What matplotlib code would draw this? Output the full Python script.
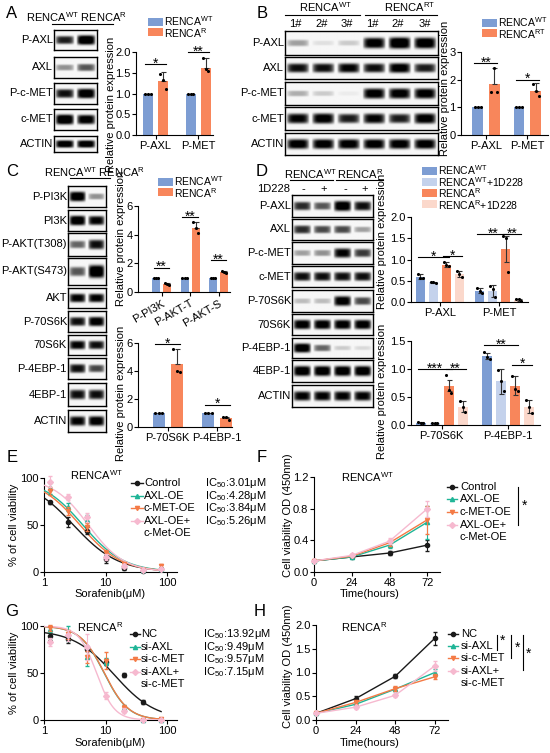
import numpy as np
import matplotlib
matplotlib.use('Agg')
import matplotlib.pyplot as plt
from matplotlib.lines import Line2D
from matplotlib.transforms import offset_copy

plt.rcParams['font.family'] = ['Liberation Sans', 'DejaVu Sans']
plt.rcParams['mathtext.default'] = 'regular'
plt.rcParams['font.size'] = 8
plt.rcParams['axes.linewidth'] = 0.8
plt.rcParams['xtick.major.width'] = 0.8
plt.rcParams['ytick.major.width'] = 0.8
plt.rcParams['xtick.major.size'] = 3
plt.rcParams['ytick.major.size'] = 3
plt.rcParams['xtick.major.pad'] = 1.5
plt.rcParams['ytick.major.pad'] = 1.0

# ---------------- data ----------------
WT = 'RENCA$^{WT}$'
RR = 'RENCA$^{R}$'
RT = 'RENCA$^{RT}$'

# blot band darkness (0..1), one list per row, one value per lane
a_blot_labels = ['P-AXL', 'AXL', 'P-c-MET', 'c-MET', 'ACTIN']
a_blot = [[0.75, 1.0], [0.35, 0.55], [0.8, 0.95], [1.0, 0.9], [0.95, 0.95]]
b_blot_labels = ['P-AXL', 'AXL', 'P-c-MET', 'c-MET', 'ACTIN']
b_blot = [[0.3, 0.08, 0.15, 0.9, 1.0, 0.95],
          [0.8, 0.8, 0.85, 0.8, 0.9, 0.75],
          [0.25, 0.15, 0.04, 0.9, 0.9, 0.9],
          [0.85, 0.9, 0.75, 0.85, 0.75, 0.9],
          [0.9, 0.9, 0.9, 0.9, 0.9, 0.9]]
c_blot_labels = ['P-PI3K', 'PI3K', 'P-AKT(T308)', 'P-AKT(S473)', 'AKT', 'P-70S6K',
                 '70S6K', 'P-4EBP-1', '4EBP-1', 'ACTIN']
c_blot = [[0.95, 0.35], [0.95, 0.85], [0.5, 0.8], [0.55, 1.0], [0.85, 0.85],
          [0.8, 0.9], [0.85, 0.8], [0.8, 0.6], [0.8, 0.8], [0.85, 0.9]]
d_blot_labels = ['P-AXL', 'AXL', 'P-c-MET', 'c-MET', 'P-70S6K', '70S6K',
                 'P-4EBP-1', '4EBP-1', 'ACTIN']
d_blot = [[0.7, 0.55, 0.95, 0.8], [0.7, 0.6, 0.6, 0.3], [0.3, 0.35, 0.85, 0.65],
          [0.8, 0.8, 0.8, 0.8], [0.2, 0.2, 0.9, 0.6], [0.9, 0.9, 0.9, 0.9],
          [0.95, 0.5, 0.15, 0.1], [0.95, 0.95, 0.95, 0.95], [0.85, 0.85, 0.85, 0.85]]

# bar panels
a_cats = ['P-AXL', 'P-MET']
a_means = [[1.0, 1.0], [1.30, 1.62]]
a_errs = [[0, 0], [0.22, 0.23]]
a_pts = [[[1, 1, 1], [1, 1, 1]], [[1.48, 1.32, 1.10], [1.85, 1.58, 1.55]]]
a_sigs = [(0, 0, 1, 1.7, '*'), (1, 0, 1, 2.0, '**')]

b_cats = ['P-AXL', 'P-MET']
b_means = [[1.0, 1.0], [1.85, 1.60]]
b_errs = [[0, 0], [0.57, 0.27]]
b_pts = [[[1, 1, 1], [1, 1, 1]], [[1.55, 2.42, 1.55], [1.85, 1.58, 1.40]]]
b_sigs = [(0, 0, 1, 2.6, '**'), (1, 0, 1, 2.0, '*')]

c1_cats = ['P-PI3K', 'P-AKT-T', 'P-AKT-S']
c1_means = [[1.0, 1.0, 1.0], [0.55, 4.5, 1.4]]
c1_errs = [[0, 0, 0], [0.05, 0.35, 0.08]]
c1_pts = [[[1, 1, 1]] * 3, [[0.6, 0.55, 0.5], [4.85, 4.5, 4.15], [1.45, 1.4, 1.35]]]
c1_sigs = [(0, 0, 1, 1.7, '**'), (1, 0, 1, 5.2, '**'), (2, 0, 1, 2.2, '**')]

c2_cats = ['P-70S6K', 'P-4EBP-1']
c2_means = [[1.0, 1.0], [4.5, 0.65]]
c2_errs = [[0, 0], [1.1, 0.08]]
c2_pts = [[[1, 1, 1]] * 2, [[5.6, 4.0, 3.9], [0.75, 0.7, 0.5]]]
c2_sigs = [(0, 0, 1, 5.9, '*'), (1, 0, 1, 1.6, '*')]

d_series = [WT, WT + '+1D228', RR, RR + '+1D228']
d1_cats = ['P-AXL', 'P-MET']
d1_means = [[0.60, 0.27], [0.46, 0.26], [0.88, 1.25], [0.66, 0.05]]
d1_errs = [[0.07, 0.06], [0.02, 0.14], [0.05, 0.30], [0.08, 0.03]]
d1_pts = [[[0.67, 0.57, 0.56], [0.33, 0.27, 0.22]],
          [[0.47, 0.46, 0.45], [0.38, 0.3, 0.12]],
          [[0.93, 0.88, 0.84], [1.55, 1.5, 0.7]],
          [[0.72, 0.66, 0.58], [0.08, 0.06, 0.02]]]
d1_sigs = [(0, 0, 2, 1.05, '*'), (0, 2, 3, 1.08, '*'), (1, 0, 2, 1.6, '**'), (1, 2, 3, 1.6, '**')]

d2_cats = ['P-70S6K', 'P-4EBP-1']
d2_means = [[0.04, 1.23], [0.03, 0.78], [0.70, 0.70], [0.33, 0.33]]
d2_errs = [[0.01, 0.05], [0.01, 0.22], [0.10, 0.17], [0.10, 0.12]]
d2_pts = [[[0.05, 0.04, 0.03], [1.3, 1.22, 1.18]],
          [[0.04, 0.03, 0.03], [0.98, 0.78, 0.6]],
          [[0.9, 0.62, 0.58], [0.88, 0.65, 0.6]],
          [[0.42, 0.33, 0.24], [0.45, 0.32, 0.22]]]
d2_sigs = [(0, 0, 2, 1.0, '***'), (0, 2, 3, 1.0, '**'), (1, 0, 2, 1.42, '**'), (1, 2, 3, 1.08, '*')]

# dose response
doses = [1.25, 2.5, 5, 10, 20, 40, 80]
e_names = ['Control', 'AXL-OE', 'c-MET-OE', 'AXL-OE+\nc-Met-OE']
e_vals = [[74, 53, 44, 14, 4, 1, 3],
          [89, 69, 55, 18, 8, 2, 3],
          [86, 65, 48, 20, 8, 2, 6],
          [96, 80, 58, 16, 6, 2, 3]]
e_errs = [[2, 5, 4, 4, 2, 1, 1], [6, 4, 6, 3, 2, 1, 1],
          [4, 4, 4, 3, 2, 1, 3], [6, 3, 5, 3, 2, 1, 1]]
e_ic50 = [3.01, 4.28, 3.84, 5.26]
e_hill = [1.2, 1.3, 1.3, 1.5]
e_top = [100, 100, 100, 100]

g_names = ['NC', 'si-AXL', 'si-c-MET', 'si-AXL+\nsi-c-MET']
g_vals = [[89, 86, 76, 62, 48, 19, np.nan],
          [97, 92, 67, 62, 13, 0, 0],
          [98, 91, 67, 63, 13, 0, 1],
          [83, 90, 78, 26, 10, 0, 0]]
g_errs = [[4, 4, 3, 3, 2, 2, np.nan], [3, 8, 10, 4, 3, 0.5, 0.5],
          [3, 5, 6, 9, 3, 0.5, 0.5], [4, 6, 14, 4, 3, 0.5, 0.5]]
g_ic50 = [13.92, 9.49, 9.57, 7.15]
g_hill = [1.3, 2.2, 2.2, 3.0]
g_top = [96, 100, 100, 100]

# proliferation
hours = [0, 24, 48, 72]
f_vals = [[0.14, 0.19, 0.24, 0.34], [0.14, 0.19, 0.34, 0.63],
          [0.14, 0.20, 0.37, 0.66], [0.14, 0.21, 0.39, 0.80]]
f_errs = [[0.01, 0.01, 0.02, 0.07], [0.01, 0.01, 0.04, 0.21],
          [0.01, 0.01, 0.04, 0.18], [0.01, 0.01, 0.04, 0.10]]
h_vals = [[0.14, 0.45, 0.92, 1.72], [0.14, 0.33, 0.65, 1.0],
          [0.14, 0.37, 0.66, 0.91], [0.14, 0.27, 0.52, 1.14]]
h_errs = [[0.01, 0.05, 0.04, 0.14], [0.01, 0.03, 0.04, 0.08],
          [0.01, 0.03, 0.05, 0.05], [0.01, 0.03, 0.03, 0.10]]

BLUE = '#7d9dd3'
ORANGE = '#f8865b'
LBLUE = '#c4d2ec'
LPEACH = '#fbd8cb'
line_colors = ['#1a1a1a', '#1fb597', '#f47a45', '#f6b9cf']
line_markers = ['o', '^', 'v', 'D']

# ---------------- helpers ----------------
W, H = 550, 753
fig = plt.figure(figsize=(5.5, 7.53), dpi=100)


def fx(x):
    return x / W


def fy(y):
    return 1 - y / H


def px_axes(x0, y0, x1, y1):
    return fig.add_axes([fx(x0), fy(y1), (x1 - x0) / W, (y1 - y0) / H])


def ftext(x, y, s, **kw):
    kw.setdefault('ha', 'center')
    kw.setdefault('va', 'center')
    return fig.text(fx(x), fy(y), s, **kw)


def fline(xs, ys, **kw):
    kw.setdefault('color', 'black')
    kw.setdefault('lw', 0.8)
    fig.add_artist(Line2D([fx(v) for v in xs], [fy(v) for v in ys],
                          transform=fig.transFigure, **kw))


def blot(x0, x1, rows, labels, levels, bg=0.03):
    yy = np.linspace(-1, 1, 40)[:, None]
    for (y0, y1), lab, lv in zip(rows, labels, levels):
        ax = px_axes(x0, y0, x1, y1)
        n = len(lv)
        xx = np.linspace(0, n, 60 * n)[None, :]
        img = np.full((40, 60 * n), bg)
        for k, v in enumerate(lv):
            px = np.clip(1 - ((xx - k - 0.5) / 0.46) ** 4, 0, 1)
            py = np.exp(-(yy / (0.18 + 0.3 * v)) ** 4)
            img = img + 1.1 * v * px * py
        ax.imshow(np.clip(img, 0, 1), cmap='gray_r', vmin=0, vmax=0.95,
                  aspect='auto', interpolation='bilinear')
        ax.set_xticks([])
        ax.set_yticks([])
        for s in ax.spines.values():
            s.set_linewidth(1.0)
        ftext(x0 - 1, (y0 + y1) / 2, lab, ha='right')


def bar_chart(box, xlim, ylim, yticks, ytl, cats, means, errs, pts, colors,
              width, step, sigs, rot=0, sym=False):
    ax = px_axes(*box)
    pos = np.arange(len(cats))
    n = len(means)
    centers = []
    for j in range(n):
        xs = pos + (j - (n - 1) / 2) * step
        centers.append(xs)
        ax.bar(xs, means[j], width, color=colors[j], zorder=2)
        e = np.array(errs[j])
        lo = e if sym else np.zeros_like(e)
        ax.errorbar(xs, means[j], yerr=[lo, e], fmt='none', ecolor='#333333',
                    elinewidth=0.8, capsize=1.8, capthick=0.8, zorder=3)
        for i, p in enumerate(pts[j]):
            ax.scatter(xs[i] + np.array([-0.28, 0, 0.28]) * width, p, s=5,
                       color='black', zorder=4, lw=0, clip_on=False)
    tr = offset_copy(ax.transData, fig=fig, y=-2.5, units='points')
    for g, j1, j2, y, t in sigs:
        a, b = centers[j1][g], centers[j2][g]
        ax.plot([a - width * 0.3, b + width * 0.3], [y, y], color='black', lw=0.8,
                clip_on=False)
        ax.text((a + b) / 2, y, t, ha='center', va='baseline', fontsize=10,
                transform=tr, clip_on=False)
    ax.set_xlim(*xlim)
    ax.set_ylim(*ylim)
    ax.set_yticks(yticks)
    ax.set_yticklabels(ytl)
    ax.set_xticks(pos)
    if rot:
        ax.set_xticklabels(cats, rotation=rot, ha='right', rotation_mode='anchor')
    else:
        ax.set_xticklabels(cats)
    for s in ['top', 'right']:
        ax.spines[s].set_visible(False)
    return ax


def bar_legend(x, ys, labels, colors, pw=15, ph=8, ls=0.8):
    for y, c in zip(ys, colors):
        ax = px_axes(x, y - ph / 2, x + pw, y + ph / 2)
        ax.set_facecolor(c)
        ax.set_xticks([])
        ax.set_yticks([])
        for s in ax.spines.values():
            s.set_visible(False)
    # one block of text so the rows keep the reference spacing
    ftext(x + pw + 1.5, (ys[0] + ys[-1]) / 2, '\n'.join(labels), ha='left',
          fontsize=7.5, linespacing=ls)


def line_legend(x0, x1, xt, ys, labels, extra_y=None):
    for k, (y, lab) in enumerate(zip(ys, labels)):
        first, *rest = lab.split('\n')
        fline([x0, (x0 + x1) / 2, x1], [y, y, y], color=line_colors[k], lw=1.0,
              marker=line_markers[k], markersize=3, markevery=[1])
        ftext(xt, y, first, ha='left')
        if rest:
            ftext(xt, extra_y, rest[0], ha='left')


def ic50_block(x, ys, values):
    lines = ['IC$_{50}$:%.2fμM' % v for v in values]
    ftext(x, (ys[0] + ys[-1]) / 2, '\n'.join(lines), ha='left', linespacing=0.86)


def hill(x, top, ic, h):
    return top / (1 + (x / ic) ** h)


def dose_panel(box, vals, errs, ic50, hill_s, tops):
    ax = px_axes(*box)
    xs = np.geomspace(1, 80, 200)
    for k in range(4):
        ax.plot(xs, hill(xs, tops[k], ic50[k], hill_s[k]), color=line_colors[k], lw=1.0,
                zorder=2 + k)
        ax.errorbar(doses, vals[k], yerr=errs[k], fmt=line_markers[k], ms=3,
                    color=line_colors[k], ecolor=line_colors[k], elinewidth=0.8,
                    capsize=1.5, zorder=6 + k, clip_on=False)
    ax.set_xscale('log')
    ax.set_xlim(1, 145)
    ax.set_ylim(0, 100)
    ax.set_xticks([1, 10, 100])
    ax.set_xticklabels(['1', '10', '100'])
    ax.minorticks_off()
    ax.set_yticks([0, 50, 100])
    for s in ['top', 'right']:
        ax.spines[s].set_visible(False)
    return ax


def time_panel(box, vals, errs, ylim, yticks, ytl):
    ax = px_axes(*box)
    for k in range(4):
        ax.errorbar(hours, vals[k], yerr=errs[k], fmt='-' + line_markers[k], ms=3,
                    color=line_colors[k], lw=1.0, elinewidth=0.8, capsize=1.5,
                    zorder=3 + k, clip_on=False)
    ax.set_xlim(0, 80)
    ax.set_ylim(*ylim)
    ax.set_xticks(hours)
    ax.set_yticks(yticks)
    ax.set_yticklabels(ytl)
    for s in ['top', 'right']:
        ax.spines[s].set_visible(False)
    return ax


# ---------------- panel letters ----------------
for letter, x, y in [('A', 12, 13), ('B', 262, 13), ('C', 12, 172), ('D', 262, 172),
                     ('E', 12, 458), ('F', 262, 458), ('G', 12, 612), ('H', 260, 612)]:
    ftext(x, y, letter, fontsize=12)

# ---------------- A ----------------
ftext(76, 17, WT + ' ' + RR)
fline([52, 113], [24, 24])
blot(54, 97, [(30, 50), (57, 78), (83, 104), (109, 130), (136, 152)], a_blot_labels, a_blot)
bar_chart((136, 52, 213, 135), (-0.46, 1.35), (0, 2.0), [0, 0.5, 1.0, 1.5, 2.0],
          ['0.0', '0.5', '1.0', '1.5', '2.0'], a_cats, a_means, a_errs, a_pts,
          [BLUE, ORANGE], 0.235, 0.35, a_sigs)
ftext(111, 104, 'Relative protein expression', rotation=90)
bar_legend(148, [22, 32], [WT, RR], [BLUE, ORANGE])

# ---------------- B ----------------
ftext(325, 7, WT)
ftext(410, 7, RT)
fline([285, 360], [15, 15])
fline([365, 437], [15, 15])
for k, x in enumerate([295, 322, 347, 372, 398, 425]):
    ftext(x, 24, '%d#' % (k % 3 + 1))
blot(285, 438, [(31, 55), (57, 79), (82, 105), (107, 130), (133, 155)], b_blot_labels, b_blot)
bar_chart((461, 52, 548, 135), (-0.6, 1.5), (0, 3), [0, 1, 2, 3], ['0', '1', '2', '3'],
          b_cats, b_means, b_errs, b_pts, [BLUE, ORANGE], 0.26, 0.4, b_sigs)
ftext(445, 88, 'Relative protein expression', rotation=90)
bar_legend(482, [23, 33], [WT, RT], [BLUE, ORANGE])

# ---------------- C ----------------
ftext(94, 172, WT + ' ' + RR)
fline([70, 110], [178, 178])
c_rows = [(186, 207), (210, 231), (233, 256), (258, 285), (288, 308), (311, 332),
          (335, 355), (358, 379), (383, 406), (410, 432)]
blot(68, 106, c_rows, c_blot_labels, c_blot)
bar_chart((138, 206, 230, 292), (-0.83, 2.4), (0, 6), [0, 2, 4, 6], ['0', '2', '4', '6'],
          c1_cats, c1_means, c1_errs, c1_pts, [BLUE, ORANGE], 0.28, 0.38, c1_sigs, rot=30)
ftext(121, 238, 'Relative protein expression', rotation=90)
bar_chart((138, 343, 232, 427), (-0.6, 1.3), (0, 6), [0, 2, 4, 6], ['0', '2', '4', '6'],
          c2_cats, c2_means, c2_errs, c2_pts, [BLUE, ORANGE], 0.24, 0.36, c2_sigs)
ftext(121, 393, 'Relative protein expression', rotation=90)
bar_legend(158, [182, 192], [WT, RR], [BLUE, ORANGE])

# ---------------- D ----------------
ftext(310, 174, WT)
ftext(360, 174, RR)
fline([290, 333], [180, 180])
fline([336, 383], [180, 180])
ftext(274, 189, '1D228')
for x, s in zip([303, 324, 345, 365], ['-', '+', '-', '+']):
    ftext(x, 189, s)
d_rows = [(195, 217), (219, 240), (242, 264), (266, 287), (290, 312), (314, 335),
          (338, 358), (360, 382), (385, 407)]
blot(292, 373, d_rows, d_blot_labels, d_blot)
d_colors = [BLUE, LBLUE, ORANGE, LPEACH]
bar_chart((411, 217, 528, 302), (-0.48, 1.48), (0, 2.0), [0, 0.5, 1.0, 1.5, 2.0],
          ['0.0', '0.5', '1.0', '1.5', '2.0'], d1_cats, d1_means, d1_errs, d1_pts,
          d_colors, 0.15, 0.217, d1_sigs, sym=True)
ftext(382, 241, 'Relative protein expression', rotation=90)
bar_chart((411, 341, 540, 425), (-0.46, 1.48), (0, 1.5), [0, 0.5, 1.0, 1.5],
          ['0.0', '0.5', '1.0', '1.5'], d2_cats, d2_means, d2_errs, d2_pts,
          d_colors, 0.15, 0.21, d2_sigs, sym=True)
ftext(382, 391, 'Relative protein expression', rotation=90)
bar_legend(422, [171, 182, 193, 204], d_series, d_colors)

# ---------------- E ----------------
dose_panel((44, 478, 177, 572), e_vals, e_errs, e_ic50, e_hill, e_top)
ftext(96, 475, WT)
ftext(14, 525, '% of cell viability', rotation=90)
ftext(110, 594, 'Sorafenib(μM)')
line_legend(131, 143, 144, [483, 496, 508, 521], e_names, extra_y=533)
ic50_block(205, [483, 496, 508, 521], e_ic50)

# ---------------- F ----------------
time_panel((314, 477, 440, 572), f_vals, f_errs, (0, 1.2), [0, 0.4, 0.8, 1.2],
           ['0.0', '0.4', '0.8', '1.2'])
ftext(367, 477, WT)
ftext(288, 515, 'Cell viability OD (450nm)', rotation=90)
ftext(370, 594, 'Time(hours)')
line_legend(447, 457, 460, [487, 499, 512, 525], e_names, extra_y=537)
fline([518, 518], [487, 525])
ftext(525, 506, '*', fontsize=10)

# ---------------- G ----------------
dose_panel((44, 626, 177, 720), g_vals, g_errs, g_ic50, g_hill, g_top)
ftext(100, 627, RR)
ftext(14, 673, '% of cell viability', rotation=90)
ftext(110, 743, 'Sorafenib(μM)')
line_legend(130, 140, 141, [634, 647, 659, 672], g_names, extra_y=684)
ic50_block(203, [634, 647, 659, 672], g_ic50)

# ---------------- H ----------------
time_panel((316, 625, 448, 720), h_vals, h_errs, (0, 2.0), [0, 0.5, 1.0, 1.5, 2.0],
           ['0.0', '0.5', '1.0', '1.5', '2.0'])
ftext(364, 627, RR)
ftext(288, 666, 'Cell viability OD (450nm)', rotation=90)
ftext(370, 743, 'Time(hours)')
line_legend(448, 458, 461, [634, 646, 658, 671], g_names, extra_y=683)
for x, y1, sx, sy in [(497, 650, 503, 641), (511, 658, 518, 648), (523, 670, 529, 654)]:
    fline([x, x], [635, y1])
    ftext(sx, sy, '*', fontsize=10)

fig.savefig('out.png', dpi=100)
